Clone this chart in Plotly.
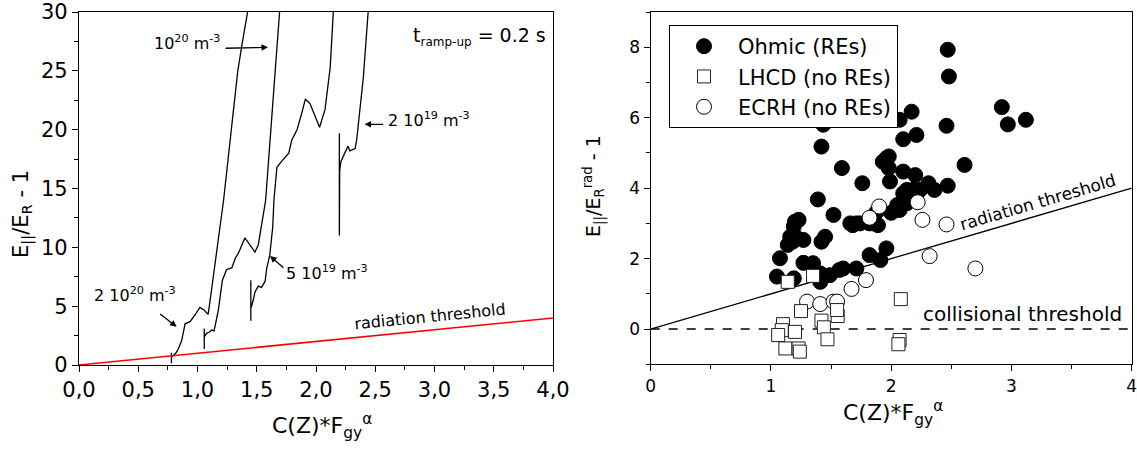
import plotly.graph_objects as go

# ---------------- Left panel data (E||/ER - 1 vs C(Z)*Fgy^a) ----------------
a_x = [0.78, 0.78, 0.78, 0.80, 0.816, 0.84, 0.867, 0.895, 0.937, 0.979, 1.02, 1.055, 1.09,
       1.12, 1.15, 1.18, 1.22, 1.28, 1.34, 1.38, 1.42, 1.44]
a_y = [0.14, 1.05, 0.7, 0.85, 0.99, 1.4, 2.1, 3.5, 3.68, 4.25, 4.9, 4.67, 4.3,
       6.5, 8.8, 11.0, 14.0, 19.5, 25.0, 27.5, 30.0, 31.0]

b_x = [1.057, 1.057, 1.057, 1.077, 1.10, 1.12, 1.14, 1.176, 1.21, 1.245, 1.29, 1.32, 1.345,
       1.40, 1.443, 1.485, 1.513, 1.54, 1.575, 1.63, 1.69, 1.70]
b_y = [1.35, 3.1, 2.4, 2.69, 2.8, 2.97, 2.9, 4.67, 7.2, 8.1, 8.27, 9.1, 9.5,
       10.8, 10.2, 9.6, 10.2, 11.75, 14.0, 21.5, 30.0, 31.0]

c_x = [1.45, 1.45, 1.45, 1.47, 1.485, 1.513, 1.54, 1.57, 1.584, 1.61, 1.635, 1.645, 1.67,
       1.71, 1.77, 1.795, 1.84, 1.88, 1.91, 1.95, 2.03, 2.076, 2.12, 2.146, 2.15]
c_y = [3.76, 7.2, 4.8, 5.5, 6.2, 6.7, 6.6, 7.1, 8.2, 9.35, 11.75, 14.0, 16.8,
       17.3, 18.0, 19.1, 20.0, 21.4, 22.6, 22.2, 20.2, 21.7, 25.3, 30.0, 31.0]

d_x = [2.197, 2.197, 2.197, 2.20, 2.21, 2.245, 2.27, 2.285, 2.31, 2.33, 2.343, 2.37, 2.40, 2.44, 2.445]
d_y = [17.0, 19.7, 11.0, 16.5, 17.3, 18.0, 18.6, 18.2, 18.3, 18.4, 19.1, 21.7, 24.5, 30.0, 31.0]

rad_x = [0.0, 4.0]
rad_y = [0.0, 4.0]

# ---------------- Right panel data ----------------
ohm_x = [2.47, 2.48, 2.92, 2.97, 3.12, 2.46, 2.61, 2.47, 2.17, 2.21, 2.10, 2.07, 1.96, 2.10,
         2.20, 2.31, 2.36, 1.99, 2.13, 1.435, 1.42, 1.59, 1.76, 1.39, 1.93, 1.98, 1.98, 1.52,
         1.23, 1.66, 1.71, 1.85, 1.20, 1.45, 2.05, 2.13, 2.07, 2.18, 2.10, 2.24, 1.88, 1.74,
         1.19, 1.16, 1.14, 1.18, 1.22, 1.27, 1.075, 1.42, 1.27, 1.35, 1.68, 1.82, 1.89, 1.96,
         1.82, 1.91, 1.05, 1.19, 1.41, 1.49, 1.57, 1.41, 1.71, 1.60, 2.14, 2.00]
ohm_y = [7.93, 7.17, 6.30, 5.81, 5.94, 5.77, 4.66, 4.07, 6.17, 5.51, 5.39, 5.94, 4.85, 4.47,
         4.37, 4.14, 3.95, 4.19, 3.95, 5.80, 5.18, 4.57, 4.14, 3.68, 4.75, 4.90, 4.57, 3.24,
         3.10, 3.00, 3.00, 3.00, 3.05, 2.62, 3.52, 3.57, 3.38, 3.95, 3.85, 3.95, 3.33, 3.00,
         2.91, 2.62, 2.39, 2.48, 2.58, 2.53, 2.01, 2.48, 1.88, 1.87, 2.95, 3.00, 2.95, 2.29,
         2.10, 1.96, 1.49, 1.44, 1.58, 1.53, 1.68, 1.34, 1.72, 1.72, 3.70, 3.30]

lhcd_x = [1.14, 1.35, 1.25, 1.10, 1.09, 1.06, 1.20, 1.12, 1.23, 1.24, 1.42, 1.44, 1.47,
          1.555, 1.55, 2.08, 2.07, 2.06]
lhcd_y = [1.34, 1.51, 0.51, 0.14, -0.03, -0.17, -0.08, -0.55, -0.55, -0.64, 0.24, 0.05, -0.29,
          0.37, 0.54, 0.85, -0.31, -0.43]

ecrh_x = [1.90, 1.82, 2.22, 2.26, 2.46, 2.32, 2.70, 1.30, 1.41, 1.52, 1.55, 1.67, 1.79]
ecrh_y = [3.48, 3.16, 3.60, 3.10, 2.97, 2.07, 1.72, 0.78, 0.71, 0.78, 0.78, 1.14, 1.39]

coll_x = [0.0, 4.0]
coll_y = [0.0, 0.0]

FONT = "DejaVu Sans, Arial, sans-serif"
W, H = 1137, 449

fig = go.Figure()
line_style = dict(color="black", width=1.3)
for xs, ys in [(a_x, a_y), (b_x, b_y), (c_x, c_y), (d_x, d_y)]:
    fig.add_trace(go.Scatter(x=xs, y=ys, mode="lines", line=line_style, showlegend=False,
                             xaxis="x", yaxis="y"))
fig.add_trace(go.Scatter(x=rad_x, y=rad_y, mode="lines", line=dict(color="red", width=1.5),
                         showlegend=False, xaxis="x", yaxis="y"))

fig.add_trace(go.Scatter(x=rad_x, y=rad_y, mode="lines", line=dict(color="black", width=1.3),
                         showlegend=False, xaxis="x2", yaxis="y2"))
fig.add_trace(go.Scatter(x=coll_x, y=coll_y, mode="lines",
                         line=dict(color="black", width=1.5, dash="dash"),
                         showlegend=False, xaxis="x2", yaxis="y2"))
fig.add_trace(go.Scatter(x=ohm_x, y=ohm_y, mode="markers", name="Ohmic (REs)", legendrank=1,
                         marker=dict(symbol="circle", size=15, color="black",
                                     line=dict(color="black", width=1)),
                         xaxis="x2", yaxis="y2"))
fig.add_trace(go.Scatter(x=ecrh_x, y=ecrh_y, mode="markers", name="ECRH (no REs)", legendrank=3,
                         marker=dict(symbol="circle", size=15, color="white",
                                     line=dict(color="black", width=1)),
                         xaxis="x2", yaxis="y2"))
fig.add_trace(go.Scatter(x=lhcd_x, y=lhcd_y, mode="markers", name="LHCD (no REs)", legendrank=2,
                         marker=dict(symbol="square", size=13, color="white",
                                     line=dict(color="#222", width=1)),
                         xaxis="x2", yaxis="y2"))

def px_x(p):
    return p / W

def px_y(p):
    return (H - p) / H

axis_common = dict(showline=True, linecolor="black", linewidth=1.3, mirror=True,
                   ticks="outside", ticklen=6, tickwidth=1.3, tickcolor="black",
                   showgrid=False, zeroline=False, automargin=False,
                   ticklabeloverflow="allow")

fig.update_layout(
    width=W, height=H,
    margin=dict(l=0, r=0, t=0, b=0),
    paper_bgcolor="white", plot_bgcolor="white",
    font=dict(family=FONT, color="black"),
    separators=", ",
    xaxis=dict(domain=[px_x(79), px_x(553)], range=[0, 4], dtick=0.5, tick0=0,
               tickformat=".1f", tickfont=dict(size=21), anchor="y",
               minor=dict(ticks="outside", dtick=0.25, ticklen=3.5, tickcolor="black"),
               **axis_common),
    yaxis=dict(domain=[px_y(365), px_y(12)], range=[0, 30], dtick=5, tick0=0,
               tickfont=dict(size=21), anchor="x",
               minor=dict(ticks="outside", dtick=2.5, ticklen=3.5, tickcolor="black"),
               **axis_common),
    xaxis2=dict(domain=[px_x(650.7), px_x(1131.7)], range=[0, 4], dtick=1, tick0=0,
                tickfont=dict(size=17), anchor="y2",
                minor=dict(ticks="outside", dtick=0.5, ticklen=3.5, tickcolor="black"),
                **axis_common),
    yaxis2=dict(domain=[px_y(364.3), px_y(12)], range=[-1, 9], dtick=2, tick0=0,
                tickfont=dict(size=17), anchor="x2",
                minor=dict(ticks="outside", dtick=1, ticklen=3.5, tickcolor="black"),
                **axis_common),
    legend=dict(x=px_x(669), y=px_y(25), xanchor="left", yanchor="top",
                bordercolor="black", borderwidth=1, bgcolor="white",
                font=dict(size=21), itemwidth=58, tracegroupgap=0),
)

ann = []
def A(**kw):
    base = dict(showarrow=False, font=dict(size=16, family=FONT, color="black"))
    base.update(kw)
    ann.append(base)

# axis titles
A(text="C(Z)*F<sub>gy</sub><sup>α</sup>", xref="paper", yref="paper", x=px_x(322), y=px_y(426),
  xanchor="center", yanchor="middle", font=dict(size=22, family=FONT, color="black"))
A(text="C(Z)*F<sub>gy</sub><sup>α</sup>", xref="paper", yref="paper", x=px_x(893), y=px_y(413),
  xanchor="center", yanchor="middle", font=dict(size=22, family=FONT, color="black"))
A(text="E<sub>||</sub>/E<sub>R</sub> - 1", xref="paper", yref="paper", x=px_x(22), y=px_y(214),
  xanchor="center", yanchor="middle", textangle=-90, font=dict(size=21, family=FONT, color="black"))
A(text="E<sub>||</sub>/E<sub>R</sub><sup>rad</sup> - 1", xref="paper", yref="paper",
  x=px_x(594), y=px_y(186), xanchor="center", yanchor="middle", textangle=-90,
  font=dict(size=19, family=FONT, color="black"))

# left panel annotations
A(text="t<sub><span style='font-size:12px'>ramp-up</span></sub> = 0.2 s", xref="x", yref="y",
  x=2.80, y=27.9, xanchor="left", yanchor="middle", font=dict(size=19, family=FONT, color="black"))
A(text="10<sup>20</sup> m<sup>-3</sup>", xref="x", yref="y", x=1.207, y=27.4, xanchor="right",
  yanchor="middle")
A(text="2 10<sup>20</sup> m<sup>-3</sup>", xref="x", yref="y", x=0.473, y=6.0, xanchor="center",
  yanchor="middle")
A(text="5 10<sup>19</sup> m<sup>-3</sup>", xref="x", yref="y", x=2.097, y=7.9, xanchor="center",
  yanchor="middle")
A(text="2 10<sup>19</sup> m<sup>-3</sup>", xref="x", yref="y", x=2.954, y=20.9, xanchor="center",
  yanchor="middle")
A(text="radiation threshold", xref="x", yref="y", x=2.96, y=4.1, textangle=-5.7,
  xanchor="center", yanchor="middle", font=dict(size=16, family=FONT, color="black"))

arrow = dict(text="", showarrow=True, arrowhead=2, arrowsize=1, arrowwidth=1.3,
             arrowcolor="black", xref="x", yref="y", axref="pixel", ayref="pixel")
ann.append(dict(arrow, x=1.595, y=27.0, ax=-44, ay=1))
ann.append(dict(arrow, x=0.824, y=3.25, ax=-18, ay=-14))
ann.append(dict(arrow, x=1.612, y=9.26, ax=15, ay=13))
ann.append(dict(arrow, x=2.41, y=20.45, ax=20, ay=0))

# right panel annotations
A(text="collisional threshold", xref="x2", yref="y2", x=3.092, y=0.43, xanchor="center",
  yanchor="middle", font=dict(size=20, family=FONT, color="black"))
A(text="radiation threshold", xref="x2", yref="y2", x=3.22, y=3.62, textangle=-16.3,
  xanchor="center", yanchor="middle", font=dict(size=17, family=FONT, color="black"))

fig.update_layout(annotations=ann)
fig.write_html("out.html", config={"displayModeBar": False},
               post_script="document.body.style.margin='0';document.body.style.overflow='hidden';")
